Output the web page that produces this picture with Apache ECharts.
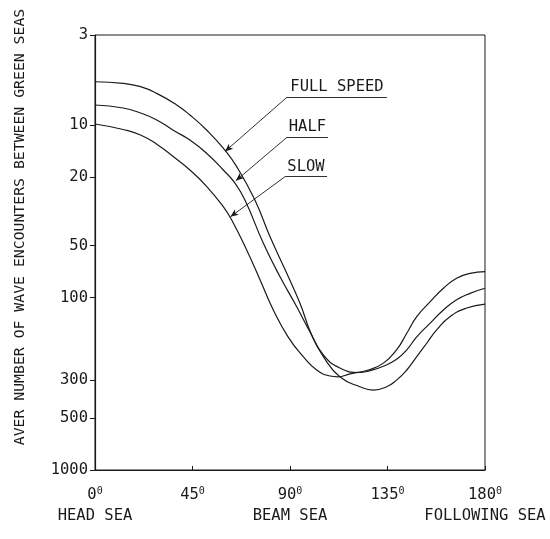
<!DOCTYPE html>
<html><head><meta charset="utf-8">
<script src="https://cdn.jsdelivr.net/npm/echarts@6/dist/echarts.min.js"></script>
<style>html,body{margin:0;padding:0;background:#fff}#c{width:550px;height:539px}</style>
</head><body><div id="c"></div>
<script>
// ---- data ----
const X_TICKS = [0, 45, 90, 135, 180];
const X_NAMES = {0: 'HEAD SEA', 90: 'BEAM SEA', 180: 'FOLLOWING SEA'};
const Y_TICKS = [3, 10, 20, 50, 100, 300, 500, 1000];
const Y_TITLE = 'AVER NUMBER OF WAVE ENCOUNTERS BETWEEN GREEN SEAS';

const X_FULL = [0, 13, 21, 28.5, 37.7, 43.8, 51.6, 59.2, 65.4, 73.8, 80.8, 88.5, 94.6, 100, 105.4, 113, 122.3, 128.4, 134.6, 139.2, 143.9, 148.5, 153.1, 157.7, 163.8, 171.5, 180];
const Y_FULL = [5.6, 5.72, 5.98, 6.54, 7.64, 8.73, 10.7, 13.6, 17.4, 27.2, 44.4, 72.3, 108, 165, 220, 288, 329, 344, 329, 301, 263, 220, 184, 154, 129, 115, 109];

const X_HALF = [0, 13, 21, 28.5, 36.1, 43.8, 51.6, 59.2, 64.6, 69.2, 77.7, 85.4, 93.1, 99.2, 105.4, 113, 122, 126.9, 133.1, 139.2, 143.9, 148.5, 154.6, 160.8, 166.9, 173.1, 180];
const Y_HALF = [7.64, 7.95, 8.5, 9.33, 10.7, 12.2, 14.6, 18.2, 21.7, 27.2, 48.4, 75.7, 113, 158, 215, 256, 272, 265, 250, 228, 201, 169, 141, 118, 103, 94.5, 88.3];

const X_SLOW = [0, 13, 21, 28.5, 36.1, 43.8, 51.6, 59.2, 63.1, 70, 76.2, 82.3, 89.1, 96.1, 102.3, 108.5, 112, 117.7, 126.1, 133.1, 139.2, 143.9, 148.5, 154.6, 160.8, 166.9, 173.1, 180];
const Y_SLOW = [9.85, 10.6, 11.4, 12.9, 15.2, 18.2, 22.7, 29.7, 35.5, 53, 79, 118, 169, 220, 263, 285, 288, 277, 263, 240, 201, 161, 129, 106, 88.3, 77.3, 72.3, 70.8];

// annotation: [label, underlineStart, underlineEnd, arrowTip] in data units
const ANN_FULL = ['FULL SPEED', [88.6, 6.89], [134.8, 6.89], [60.0, 14.2]];
const ANN_HALF = ['HALF', [88.6, 11.76], [107.5, 11.76], [65.0, 21.0]];
const ANN_SLOW = ['SLOW', [87.7, 19.9], [107.1, 19.9], [62.5, 34.0]];

// ---- chart ----
const FONT = "'DejaVu Sans Mono', monospace";
const INK = '#1a1a1a';
const zip = (xs, ys) => xs.map((x, i) => [x, ys[i]]);

function annot(a) {
  return {
    silent: true,
    animation: false,
    symbol: ['none', 'none'],
    lineStyle: {color: INK, width: 0.9, type: 'solid'},
    data: [
      [
        {coord: a[1], symbol: 'none', label: {show: true, formatter: a[0], position: 'insideMiddleTop', distance: 2, color: INK, fontFamily: FONT, fontSize: 15.5}},
        {coord: a[2], symbol: 'none'}
      ],
      [
        {coord: a[1], symbol: 'none', label: {show: false}},
        {coord: a[3], symbol: 'arrow', symbolSize: [5, 8], label: {show: false}}
      ]
    ]
  };
}

function series(name, xs, ys, ann) {
  return {
    name, type: 'line', data: zip(xs, ys), smooth: 0.5, showSymbol: false,
    lineStyle: {color: INK, width: 1.2}, itemStyle: {color: INK},
    animation: false, silent: true,
    markLine: annot(ann)
  };
}

const chart = echarts.init(document.getElementById('c'), null, {renderer: 'canvas'});
chart.setOption({
  backgroundColor: '#fff',
  animation: false,
  grid: {left: 95, right: 65, top: 35, bottom: 69, show: true, borderColor: INK, borderWidth: 1, backgroundColor: 'transparent'},
  xAxis: {
    type: 'value', min: 0, max: 180, interval: 45,
    axisLine: {show: true, lineStyle: {color: INK, width: 1.2}},
    axisTick: {show: true, inside: true, length: 4, lineStyle: {color: INK}},
    splitLine: {show: false},
    axisLabel: {
      margin: 16, showMinLabel: true, showMaxLabel: true, hideOverlap: false,
      formatter: v => '{n|' + v + '}{s|0}' + (X_NAMES[v] ? '\n{t|' + X_NAMES[v] + '}' : ''),
      rich: {
        n: {fontFamily: FONT, fontSize: 15.5, color: INK, lineHeight: 18},
        s: {fontFamily: FONT, fontSize: 10, color: INK, lineHeight: 18, verticalAlign: 'top'},
        t: {fontFamily: FONT, fontSize: 15.5, color: INK, lineHeight: 24}
      }
    }
  },
  yAxis: {
    type: 'log', logBase: 10, min: 3, max: 1000, inverse: true,
    axisLine: {show: true, lineStyle: {color: INK, width: 1.2}},
    axisTick: {show: true, length: 5, customValues: Y_TICKS, lineStyle: {color: INK}},
    minorTick: {show: false},
    splitLine: {show: false},
    axisLabel: {customValues: Y_TICKS, margin: 7, formatter: v => String(Math.round(v)), fontFamily: FONT, fontSize: 15.5, color: INK}
  },
  graphic: [{
    type: 'text', x: 20, y: 227, rotation: Math.PI / 2,
    style: {text: Y_TITLE, fontFamily: FONT, fontSize: 14.8, fill: INK, align: 'center', verticalAlign: 'middle'}
  }],
  series: [
    series('FULL SPEED', X_FULL, Y_FULL, ANN_FULL),
    series('HALF', X_HALF, Y_HALF, ANN_HALF),
    series('SLOW', X_SLOW, Y_SLOW, ANN_SLOW)
  ]
});
</script>
</body></html>
